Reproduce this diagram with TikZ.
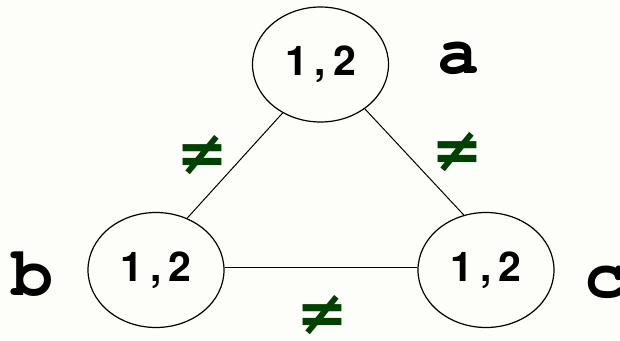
\documentclass[tikz,border=0pt]{standalone}
\usepackage{fontspec}
\usepackage{xcolor}
\usetikzlibrary{shapes.geometric}
\newfontfamily\digitfont{TeX Gyre Heros}
\newfontfamily\varfont{texgyrecursor-bold.otf}
\newfontfamily\symfont{DejaVu Sans}
\definecolor{neqgreen}{RGB}{0,64,0}
\definecolor{paper}{RGB}{253,254,249}
\tikzset{valbox/.style={ellipse, draw=black, line width=1.2pt, minimum width=136pt, minimum height=115pt, inner sep=0pt, font=\digitfont\bfseries\fontsize{41}{41}\selectfont},
varname/.style={anchor=base, font=\varfont\fontsize{70}{70}\selectfont},
neq/.style={text=neqgreen, inner sep=0pt, font=\symfont\bfseries\fontsize{62}{62}\selectfont}}

\begin{document}
\begin{tikzpicture}[x=1pt,y=-1pt]
  \fill[paper] (0,0) rectangle (620,340);
  \useasboundingbox (0,0) rectangle (620,340);

  \node[valbox] at (320.5,64.5) (a) {1\,,\,2};
  \node[valbox] at (156,270) (b) {1\,,\,2};
  \node[valbox] at (486,270) (c) {1\,,\,2};

  \node[varname] at (458,73) (la) {a};
  \node[varname] at (32,295) (lb) {b};
  \node[varname] at (605,297) (lc) {c};

  \draw[line width=1pt] (a.232) -- (b.59);
  \draw[line width=1pt] (a.315) -- (c.112);
  \draw[line width=1pt] (b.2) -- (c.178);

  \node[neq] at (202,155) (nab) {≠};
  \node[neq] at (457,152) (nac) {≠};
  \node[neq] at (322,315) (nbc) {≠};
\end{tikzpicture}
\end{document}
